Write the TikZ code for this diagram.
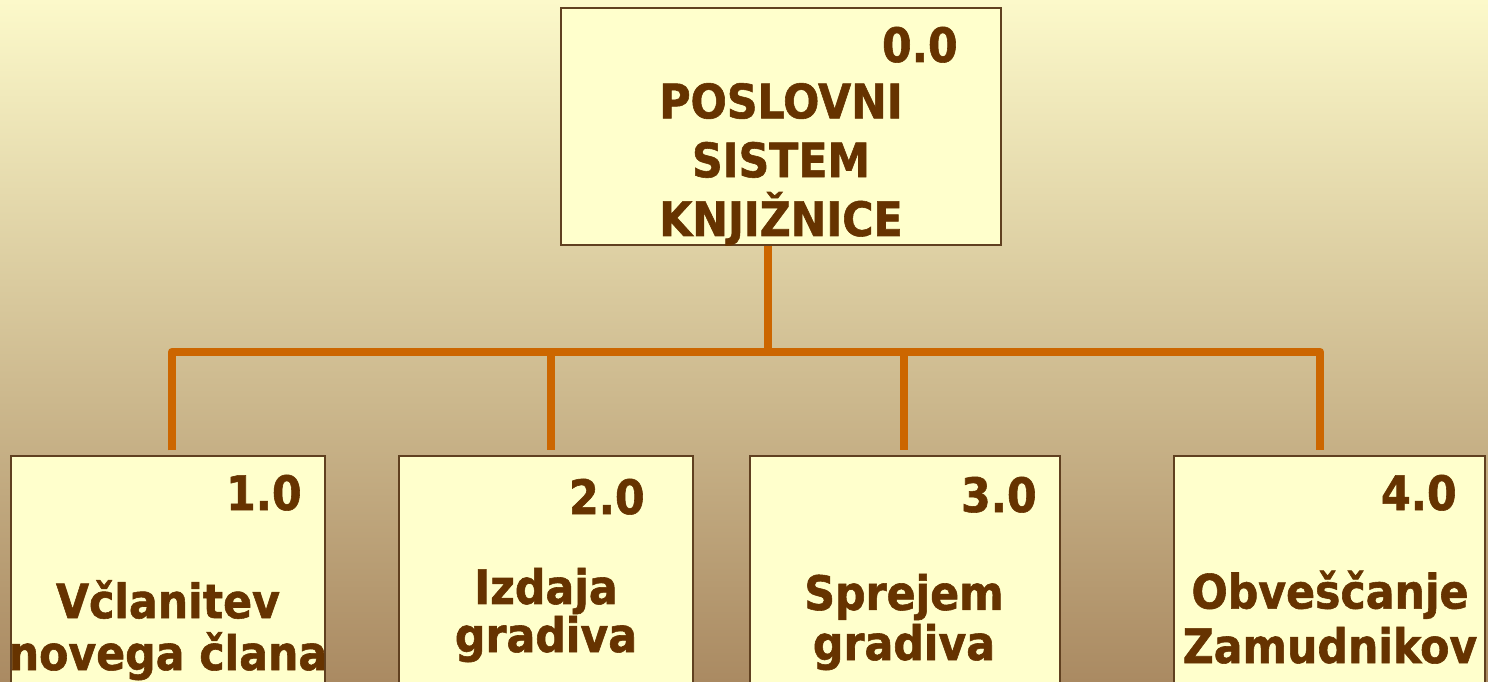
\documentclass[tikz,border=0pt]{standalone}
\usepackage{fontspec}
\setmainfont{DejaVu Sans Condensed}[BoldFont={DejaVu Sans Condensed Bold}, BoldFeatures={FakeBold=1.2}]
\definecolor{boxfill}{RGB}{255,255,204}
\definecolor{boxline}{RGB}{96,64,32}
\definecolor{ink}{RGB}{102,51,0}
\definecolor{wire}{RGB}{204,102,0}
\definecolor{bgtop}{RGB}{252,249,202}
\definecolor{bgmid}{RGB}{222,212,166}
\definecolor{bgbot}{RGB}{170,138,98}
\tikzset{
  box/.style={draw=boxline, line width=1.3pt, fill=boxfill, inner sep=0pt},
  num/.style={text=ink, font=\bfseries\fontsize{27}{33}\selectfont, anchor=base east, inner sep=0pt},
  title/.style={text=ink, align=center, inner sep=0pt, anchor=base},
  link/.style={draw=wire, line width=4.8pt, line join=round}
}
\begin{document}
\begin{tikzpicture}[x=0.02cm,y=-0.02cm]
  % page and background
  \clip (0,0) rectangle (1488,682);
  \fill[top color=bgtop, middle color=bgmid, bottom color=bgbot] (0,0) rectangle (1488,682);

  % boxes
  \node[box, minimum width=8.8cm, minimum height=4.74cm] (n0) at (781,126.5) {};
  \node[box, minimum width=6.28cm, minimum height=6cm] (n1) at (168,606) {};
  \node[box, minimum width=5.88cm, minimum height=6cm] (n2) at (546,606) {};
  \node[box, minimum width=6.2cm, minimum height=6cm] (n3) at (905,606) {};
  \node[box, minimum width=6.22cm, minimum height=6cm] (n4) at (1329.5,606) {};

  % connectors
  \coordinate (hub) at (768,352);
  \coordinate (d1) at (172,352);
  \coordinate (d2) at (551,352);
  \coordinate (d3) at (904,352);
  \coordinate (d4) at (1320,352);
  \draw[link] (n0.south -| hub) -- (hub);
  \draw[link, shorten <=2.5pt, shorten >=2.5pt] (n1.north -| d1) -- (d1) -- (d4) -- (n4.north -| d4);
  \draw[link, shorten >=2.5pt] (d2) -- (n2.north -| d2);
  \draw[link, shorten >=2.5pt] (d3) -- (n3.north -| d3);

  % numbers
  \node[num] (t0) at (958,62) {0.0};
  \node[num] (t1) at (302,510) {1.0};
  \node[num] (t2) at (645,514) {2.0};
  \node[num] (t3) at (1037,512) {3.0};
  \node[num] (t4) at (1457,510) {4.0};

  % names (base = last line)
  \node[title, font=\bfseries\fontsize{27}{33.5}\selectfont] (l0) at (781,236) {POSLOVNI\\SISTEM\\KNJIŽNICE};
  \node[title, font=\bfseries\fontsize{27}{29.5}\selectfont] (l1) at (168,670) {Včlanitev\\novega člana};
  \node[title, font=\bfseries\fontsize{27}{25.5}\selectfont] (l2) at (546,652) {Izdaja\\gradiva};
  \node[title, font=\bfseries\fontsize{27}{28.5}\selectfont] (l3) at (904,660) {Sprejem\\gradiva};
  \node[title, font=\bfseries\fontsize{27}{31}\selectfont] (l4) at (1330,663) {Obveščanje\\Zamudnikov};
\end{tikzpicture}
\end{document}
